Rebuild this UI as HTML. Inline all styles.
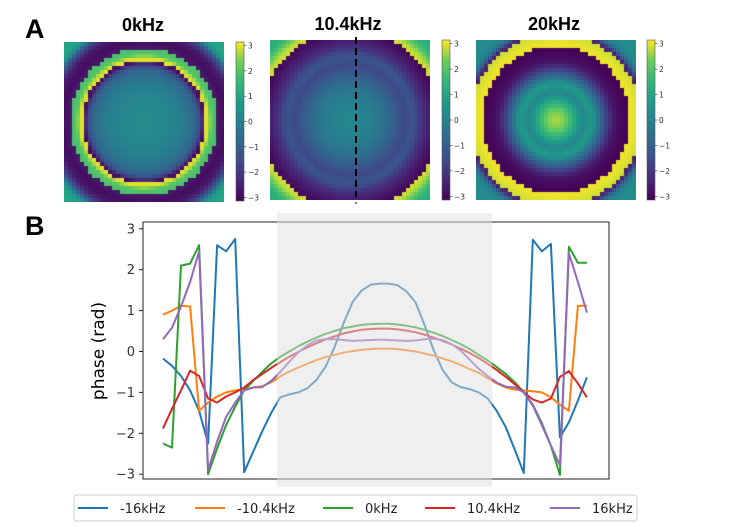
<!DOCTYPE html>
<html><head><meta charset="utf-8">
<style>
html,body{margin:0;padding:0;background:#fff;}
#root{position:relative;width:732px;height:527px;overflow:hidden;background:#fff;font-family:"DejaVu Sans","Liberation Sans",sans-serif;}
.lbl{position:absolute;font-family:"Liberation Sans",Arial,sans-serif;font-weight:bold;}
canvas{position:absolute;}
</style></head>
<body>
<div id="root">
<div class="lbl" style="left:25px;top:14px;font-size:27px;">A</div>
<div class="lbl" style="left:25px;top:211px;font-size:27px;">B</div>
<div class="lbl" style="left:93px;top:15px;width:100px;text-align:center;font-size:18px;">0kHz</div>
<div class="lbl" style="left:298px;top:14px;width:100px;text-align:center;font-size:18px;">10.4kHz</div>
<div class="lbl" style="left:504px;top:14px;width:100px;text-align:center;font-size:18px;">20kHz</div>
<canvas id="hm0" width="160" height="160" style="left:64px;top:42px;"></canvas>
<canvas id="hm1" width="160" height="160" style="left:270px;top:40px;"></canvas>
<canvas id="hm2" width="160" height="160" style="left:476px;top:40px;"></canvas>
<svg id="ov" width="732" height="527" style="position:absolute;left:0;top:0"></svg>
</div>
<script>
const NS="http://www.w3.org/2000/svg";
const ov=document.getElementById('ov');
function mk(tag,attrs,parent){const e=document.createElementNS(NS,tag);for(const k in attrs)e.setAttribute(k,attrs[k]);(parent||ov).appendChild(e);return e;}

// ---------- Panel A data: radial phase profiles (rad), one sample per cell radius ----------
const profile0k=[0.25,0.25,0.24,0.22,0.2,0.17,0.12,0.06,-0.02,-0.12,-0.25,-0.42,-0.62,-0.9,-1.5,-2.9,3.0,2.0,1.9,-2.7,-2.9,-2.8,-2.6,-2.0,-1.0,0.5,0.9,1.0,1.0,1.0];
const profile10k=[0.1,0.1,0.08,0.05,0.0,-0.08,-0.18,-0.3,-0.45,-0.6,-0.8,-1.0,-1.2,-1.45,-1.6,-1.35,-1.3,-1.7,-2.1,-2.4,-2.6,-2.8,-3.0,2.9,2.6,2.0,1.5,1.3,1.2,1.2];
const profile20k=[2.7,2.6,2.4,2.0,1.5,1.0,0.5,0.1,0.5,0.7,0.0,-0.6,-1.3,-2.0,-2.5,-2.8,-2.95,-3.05,-3.1,3.05,3.0,2.9,-2.5,-0.8,0.0,0.2,0.3,0.3,0.3,0.3];
const cbTicks=[3,2,1,0,-1,-2,-3];

const vir=[[68,1,84],[72,40,120],[62,74,137],[49,104,142],[38,130,142],[31,158,137],[53,183,121],[110,206,88],[253,231,37]];
function viridis(v){let t=(v+Math.PI)/(2*Math.PI);t=Math.max(0,Math.min(1,t));const f=t*8,i=Math.min(7,Math.floor(f)),u=f-i;const a=vir[i],b=vir[i+1];return 'rgb('+a.map((c,k)=>Math.round(c+(b[k]-c)*u)).join(',')+')';}
function sample(p,r){const i=Math.floor(r),u=r-i;if(i>=p.length-1)return p[p.length-1];const a=p[i],b=p[i+1];if(Math.abs(a-b)>2)return u<0.5?a:b;return a+(b-a)*u;}
function drawMap(id,prof){const c=document.getElementById(id).getContext('2d');for(let y=0;y<40;y++)for(let x=0;x<40;x++){const r=Math.hypot(x-19.5,y-19.5);c.fillStyle=viridis(sample(prof,r));c.fillRect(x*4,y*4,4,4);}}
drawMap('hm0',profile0k);drawMap('hm1',profile10k);drawMap('hm2',profile20k);

// colorbars
const defs=mk('defs',{});
const lg=mk('linearGradient',{id:'vg',x1:0,y1:1,x2:0,y2:0},defs);
for(let k=0;k<=8;k++){mk('stop',{offset:k/8,'stop-color':'rgb('+vir[k].join(',')+')'},lg);}
const cbs=[[236,42,159],[442,40,160],[647,40,160]];
cbs.forEach((cb,j)=>{
  const r=mk('rect',{x:cb[0],y:cb[1],width:8,height:cb[2],fill:'url(#vg)',stroke:'#555','stroke-width':0.6});
  
  
  cbTicks.forEach(v=>{
    const y=cb[1]+(Math.PI-v)/(2*Math.PI)*cb[2];
    mk('line',{x1:cb[0]+8,x2:cb[0]+10.5,y1:y,y2:y,stroke:'#333','stroke-width':0.6});
    const t=mk('text',{x:cb[0]+12,y:y+3,'font-size':7.5,fill:'#333','font-family':'DejaVu Sans, sans-serif'});
    t.textContent=(v<0?'\u2212'+(-v):String(v));
    
    
  });
});
// dashed cut line
const dl=mk('line',{x1:356,x2:356,y1:37,y2:197,stroke:'#000','stroke-width':2,'stroke-dasharray':'7,4'});


mk('line',{x1:356,x2:356,y1:202,y2:204,stroke:'#000','stroke-width':1});

// ---------- Panel B data ----------
const seriesNames=['-16kHz','-10.4kHz','0kHz','10.4kHz','16kHz'];
const seriesColors=['#1f77b4','#ff7f0e','#2ca02c','#d62728','#9467bd'];
const yTicks=[3,2,1,0,-1,-2,-3];
const sM16=[-0.17,-0.35,-0.6,-0.95,-1.45,-2.25,2.6,2.45,2.75,-2.95,-2.45,-1.95,-1.5,-1.12,-1.05,-1.0,-0.9,-0.7,-0.38,0.1,0.68,1.2,1.49,1.63,1.66,1.66,1.62,1.47,1.2,0.64,0.04,-0.45,-0.75,-0.87,-0.92,-1.0,-1.15,-1.45,-1.85,-2.4,-2.97,2.73,2.45,2.63,-2.1,-1.73,-1.2,-0.63];
const sM10=[0.9,1.0,1.12,1.1,-1.45,-1.25,-1.1,-1.0,-0.95,-0.92,-0.88,-0.85,-0.75,-0.61,-0.49,-0.39,-0.30,-0.21,-0.14,-0.08,-0.03,0.01,0.04,0.06,0.07,0.07,0.06,0.03,0.0,-0.05,-0.10,-0.17,-0.24,-0.33,-0.43,-0.52,-0.65,-0.78,-0.88,-0.93,-0.95,-0.97,-1.0,-1.12,-1.3,-1.45,1.12,1.12];
const s0=[-2.25,-2.35,2.1,2.15,2.6,-3.0,-2.37,-1.8,-1.35,-0.95,-0.72,-0.5,-0.29,-0.13,0.0,0.13,0.24,0.34,0.43,0.50,0.57,0.61,0.65,0.67,0.68,0.68,0.66,0.63,0.59,0.53,0.46,0.38,0.28,0.18,0.06,-0.08,-0.22,-0.38,-0.55,-0.75,-1.0,-1.3,-1.75,-2.3,-3.02,2.56,2.17,2.17];
const sP10=[-1.88,-1.4,-0.95,-0.47,-0.6,-1.15,-1.25,-1.1,-1.0,-0.88,-0.7,-0.55,-0.4,-0.26,-0.13,-0.01,0.1,0.2,0.29,0.37,0.44,0.49,0.53,0.55,0.56,0.56,0.54,0.51,0.47,0.41,0.34,0.26,0.17,0.07,-0.04,-0.16,-0.3,-0.45,-0.62,-0.8,-1.0,-1.17,-1.25,-1.15,-0.62,-0.48,-0.78,-1.12];
const sP16=[0.3,0.58,1.1,1.7,2.45,-2.9,-2.2,-1.6,-1.25,-0.95,-0.88,-0.87,-0.72,-0.5,-0.25,-0.02,0.15,0.27,0.3,0.3,0.28,0.26,0.27,0.28,0.29,0.28,0.27,0.26,0.27,0.3,0.31,0.28,0.18,0.02,-0.2,-0.42,-0.6,-0.76,-0.86,-0.88,-1.0,-1.32,-1.8,-2.3,-2.78,2.4,1.7,0.95];
const allSeries=[sM16,sM10,s0,sP10,sP16];

const PL=143,PR=609,PT=222,PB=479;
function xScale(i){return 163+i*9.02;}
function yScale(v){return 351.5-v*40.9;}

// frame
const fr=mk('rect',{x:PL,y:PT,width:PR-PL,height:PB-PT,fill:'none',stroke:'#222','stroke-width':1});


yTicks.forEach(v=>{
  const y=yScale(v);
  mk('line',{x1:PL-4,x2:PL,y1:y,y2:y,stroke:'#222','stroke-width':1});
  const t=mk('text',{x:PL-8,y:y+4.5,'text-anchor':'end','font-size':13,fill:'#333','font-family':'DejaVu Sans, sans-serif'});
  t.textContent=(v<0?'\u2212'+(-v):String(v));
  
  
});
const yl=mk('text',{x:0,y:0,transform:'translate(104,351) rotate(-90)','text-anchor':'middle','font-size':17,fill:'#000','font-family':'DejaVu Sans, sans-serif'});
yl.textContent='phase (rad)';



allSeries.forEach((s,k)=>{
  const d=s.map((v,i)=>(i?'L':'M')+xScale(i).toFixed(1)+','+yScale(v).toFixed(1)).join('');
  const p=mk('path',{d:d,fill:'none',stroke:seriesColors[k],'stroke-width':2,'stroke-linejoin':'round'});
  
  
});
const span=mk('rect',{x:277,y:213,width:215,height:274,fill:'#dfdfdf','fill-opacity':0.5});



// legend
const lb=mk('rect',{x:74,y:495,width:563,height:26,rx:3,fill:'#fff',stroke:'#ccc','stroke-width':1});


const legLineX=[78,195,323,425,550];
seriesNames.forEach((n,k)=>{
  const x=legLineX[k];
  const ln=mk('line',{x1:x,x2:x+30,y1:508,y2:508,stroke:seriesColors[k],'stroke-width':2});
  
  
  const t=mk('text',{x:x+42,y:513,'font-size':13,fill:'#222','font-family':'DejaVu Sans, sans-serif'});
  t.textContent=n;
  
  
});
</script>
</body></html>
